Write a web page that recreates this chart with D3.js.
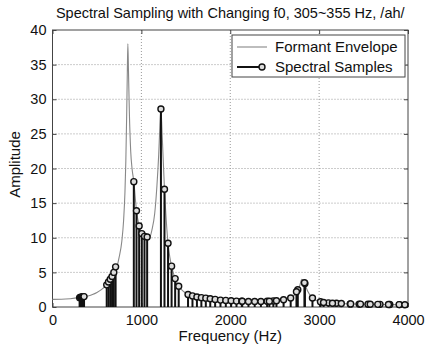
<!DOCTYPE html>
<html>
<head>
<meta charset="utf-8">
<script src="https://cdn.jsdelivr.net/npm/d3@7"></script>
<style>
  body { margin: 0; background: #fff; }
  #chart-area { width: 427px; height: 351px; }
  text { font-family: "Liberation Sans", Arial, sans-serif; fill: #111; }
</style>
</head>
<body>
<div id="chart-area"></div>
<script>
// formant envelope (Hz, amplitude)
const envFreq = [0, 100, 200, 300, 350, 400, 450, 500, 550, 600, 650, 700, 725, 750, 780, 800, 815, 825, 835, 842, 848,
  855, 865, 880, 895, 915, 945, 975, 1005, 1035, 1065, 1090, 1120, 1150, 1175, 1195, 1208, 1220, 1235, 1250, 1260,
  1280, 1300, 1320, 1340, 1360, 1380, 1420, 1470, 1525, 1600, 1700, 1800, 1900, 2000, 2100, 2200, 2300, 2400, 2500,
  2600, 2680, 2745, 2780, 2805, 2835, 2870, 2925, 3000, 3100, 3200, 3300, 3400, 3500, 3600, 3700, 3800, 3900, 4000];
const envAmp = [1.1, 1.12, 1.2, 1.35, 1.45, 1.6, 1.8, 2.1, 2.5, 3.1, 3.9, 5.0, 5.8, 7.2, 9.5, 12.5, 16.5, 21, 28, 34, 38,
  34, 28, 22.5, 20, 18.1, 13.9, 11.7, 10.6, 10.2, 10.1, 10.0, 11.2, 13.5, 17.5, 22, 26, 28.6, 24.5, 20, 17,
  12.5, 9.2, 7.2, 5.9, 4.9, 4.1, 3.0, 2.3, 1.8, 1.5, 1.3, 1.15, 1.0, 0.9, 0.85, 0.8, 0.8, 0.82, 0.9,
  1.05, 1.3, 2.1, 3.0, 4.0, 3.5, 2.3, 1.3, 0.8, 0.6, 0.55, 0.48, 0.43, 0.4, 0.38, 0.36, 0.35, 0.33, 0.32];

// spectral samples (harmonics of f0 = 305..355 Hz)
const sampleFreq = [305, 315, 325, 335, 345, 355,
  610, 630, 650, 670, 690, 710,
  915, 945, 975, 1005, 1035, 1065,
  1220, 1260, 1300, 1340, 1380, 1420,
  1525, 1575, 1625, 1675, 1725, 1775,
  1830, 1890, 1950, 2010, 2070, 2130,
  2135, 2205, 2275, 2345, 2415, 2485,
  2440, 2520, 2600, 2680, 2760, 2840,
  2745, 2835, 2925, 3015, 3105, 3195,
  3050, 3150, 3250, 3350, 3450, 3550,
  3355, 3465, 3575, 3685, 3795, 3905,
  3660, 3780, 3900, 3965];
const sampleAmp = [1.35, 1.4, 1.42, 1.45, 1.48, 1.5,
  3.2, 3.6, 4.0, 4.4, 5.0, 5.8,
  18.1, 13.9, 11.7, 10.6, 10.2, 10.1,
  28.6, 17.0, 9.2, 5.9, 4.1, 3.0,
  1.8, 1.6, 1.45, 1.35, 1.28, 1.2,
  1.1, 1.0, 0.95, 0.9, 0.85, 0.82,
  0.82, 0.8, 0.8, 0.8, 0.82, 0.88,
  0.82, 0.9, 1.05, 1.3, 2.5, 3.4,
  2.2, 3.5, 1.3, 0.75, 0.6, 0.55,
  0.65, 0.55, 0.5, 0.45, 0.42, 0.4,
  0.45, 0.42, 0.4, 0.38, 0.36, 0.35,
  0.38, 0.36, 0.35, 0.33];

const xTicks = [0, 1000, 2000, 3000, 4000];
const yTicks = [0, 5, 10, 15, 20, 25, 30, 35, 40];
const seriesNames = ["Formant Envelope", "Spectral Samples"];
const chartTitle = "Spectral Sampling with Changing f0, 305~355 Hz, /ah/";

class SpectrumVis {
  constructor(parentElement) {
    this.parentElement = parentElement;
    this.envelope = envFreq.map((f, i) => ({ f: f, a: envAmp[i] }));
    this.samples = sampleFreq.map((f, i) => ({ f: f, a: sampleAmp[i] }));
    this.initVis();
  }

  initVis() {
    let vis = this;

    vis.margin = { top: 30, right: 19, bottom: 44, left: 52.5 };
    vis.width = 427 - vis.margin.left - vis.margin.right;
    vis.height = 351 - vis.margin.top - vis.margin.bottom;

    vis.svg = d3
      .select("#" + vis.parentElement)
      .append("svg")
      .attr("width", 427)
      .attr("height", 351)
      .append("g")
      .attr("transform", `translate(${vis.margin.left}, ${vis.margin.top})`);

    vis.x = d3.scaleLinear().domain([0, 4000]).range([0, vis.width]);
    vis.y = d3.scaleLinear().domain([0, 40]).range([vis.height, 0]);

    // dotted grid
    vis.svg
      .append("g")
      .selectAll("line.gx")
      .data(xTicks.slice(1, -1))
      .enter()
      .append("line")
      .attr("x1", (d) => vis.x(d))
      .attr("x2", (d) => vis.x(d))
      .attr("y1", 0)
      .attr("y2", vis.height)
      .attr("stroke", "#999")
      .attr("stroke-dasharray", "1,2");
    vis.svg
      .append("g")
      .selectAll("line.gy")
      .data(yTicks.slice(1, -1))
      .enter()
      .append("line")
      .attr("x1", 0)
      .attr("x2", vis.width)
      .attr("y1", (d) => vis.y(d))
      .attr("y2", (d) => vis.y(d))
      .attr("stroke", "#999")
      .attr("stroke-dasharray", "1,2");

    // axes, ticks pointing inwards on all four sides
    let fmt = d3.format("d");
    let axes = [
      d3.axisBottom(vis.x).tickValues(xTicks).tickFormat(fmt).tickSizeInner(-4).tickSizeOuter(0).tickPadding(8),
      d3.axisLeft(vis.y).tickValues(yTicks).tickFormat(fmt).tickSizeInner(-4).tickSizeOuter(0).tickPadding(6),
      d3.axisTop(vis.x).tickValues(xTicks).tickSizeInner(-4).tickSizeOuter(0).tickFormat(""),
      d3.axisRight(vis.y).tickValues(yTicks).tickSizeInner(-4).tickSizeOuter(0).tickFormat(""),
    ];
    let shifts = [`0,${vis.height}`, "0,0", "0,0", `${vis.width},0`];
    axes.forEach((ax, i) => {
      let g = vis.svg.append("g").attr("transform", `translate(${shifts[i]})`).call(ax);
      g.select(".domain").remove();
      g.selectAll("line").attr("stroke", "#444");
      g.selectAll("text").attr("font-size", 14.5).attr("fill", "#111");
    });

    vis.svg
      .append("rect")
      .attr("width", vis.width)
      .attr("height", vis.height)
      .attr("fill", "none")
      .attr("stroke", "#444")
      .attr("stroke-width", 1);

    // envelope
    vis.line = d3
      .line()
      .x((d) => vis.x(d.f))
      .y((d) => vis.y(d.a))
      .curve(d3.curveMonotoneX);

    vis.svg
      .append("path")
      .datum(vis.envelope)
      .attr("d", vis.line)
      .attr("fill", "none")
      .attr("stroke", "#888")
      .attr("stroke-width", 1.1);

    // stems
    vis.svg
      .append("g")
      .selectAll("line")
      .data(vis.samples)
      .enter()
      .append("line")
      .attr("x1", (d) => vis.x(d.f))
      .attr("x2", (d) => vis.x(d.f))
      .attr("y1", vis.y(0))
      .attr("y2", (d) => vis.y(d.a))
      .attr("stroke", "#111")
      .attr("stroke-width", 2);

    vis.svg
      .append("g")
      .selectAll("circle")
      .data(vis.samples)
      .enter()
      .append("circle")
      .attr("cx", (d) => vis.x(d.f))
      .attr("cy", (d) => vis.y(d.a))
      .attr("r", 3)
      .attr("fill", "#ddd")
      .attr("stroke", "#111")
      .attr("stroke-width", 1.4);

    // title and labels
    vis.svg
      .append("text")
      .text(chartTitle)
      .attr("x", vis.width / 2)
      .attr("y", -12)
      .attr("text-anchor", "middle")
      .attr("font-size", 14.5);

    vis.svg
      .append("text")
      .text("Frequency (Hz)")
      .attr("x", vis.width / 2)
      .attr("y", vis.height + 34)
      .attr("text-anchor", "middle")
      .attr("font-size", 15);

    vis.svg
      .append("text")
      .text("Amplitude")
      .attr("transform", `translate(${-33}, ${vis.height / 2 - 4}) rotate(-90)`)
      .attr("text-anchor", "middle")
      .attr("font-size", 15);

    // legend
    let legend = vis.svg.append("g").attr("transform", `translate(${vis.width - 176}, 5)`);
    legend
      .append("rect")
      .attr("width", 173)
      .attr("height", 42)
      .attr("fill", "#fff")
      .attr("stroke", "#444");
    seriesNames.forEach((name, i) => {
      let yy = 12 + i * 20;
      legend
        .append("line")
        .attr("x1", 5)
        .attr("x2", i === 0 ? 35 : 30)
        .attr("y1", yy)
        .attr("y2", yy)
        .attr("stroke", i === 0 ? "#888" : "#111")
        .attr("stroke-width", i === 0 ? 1.1 : 2);
      if (i === 1) {
        legend
          .append("circle")
          .attr("cx", 30)
          .attr("cy", yy)
          .attr("r", 3)
          .attr("fill", "#ddd")
          .attr("stroke", "#111")
          .attr("stroke-width", 1.4);
      }
      legend
        .append("text")
        .text(name)
        .attr("x", 43)
        .attr("y", yy)
        .attr("dy", "0.35em")
        .attr("font-size", 15);
    });
  }
}

new SpectrumVis("chart-area");
</script>
</body>
</html>
